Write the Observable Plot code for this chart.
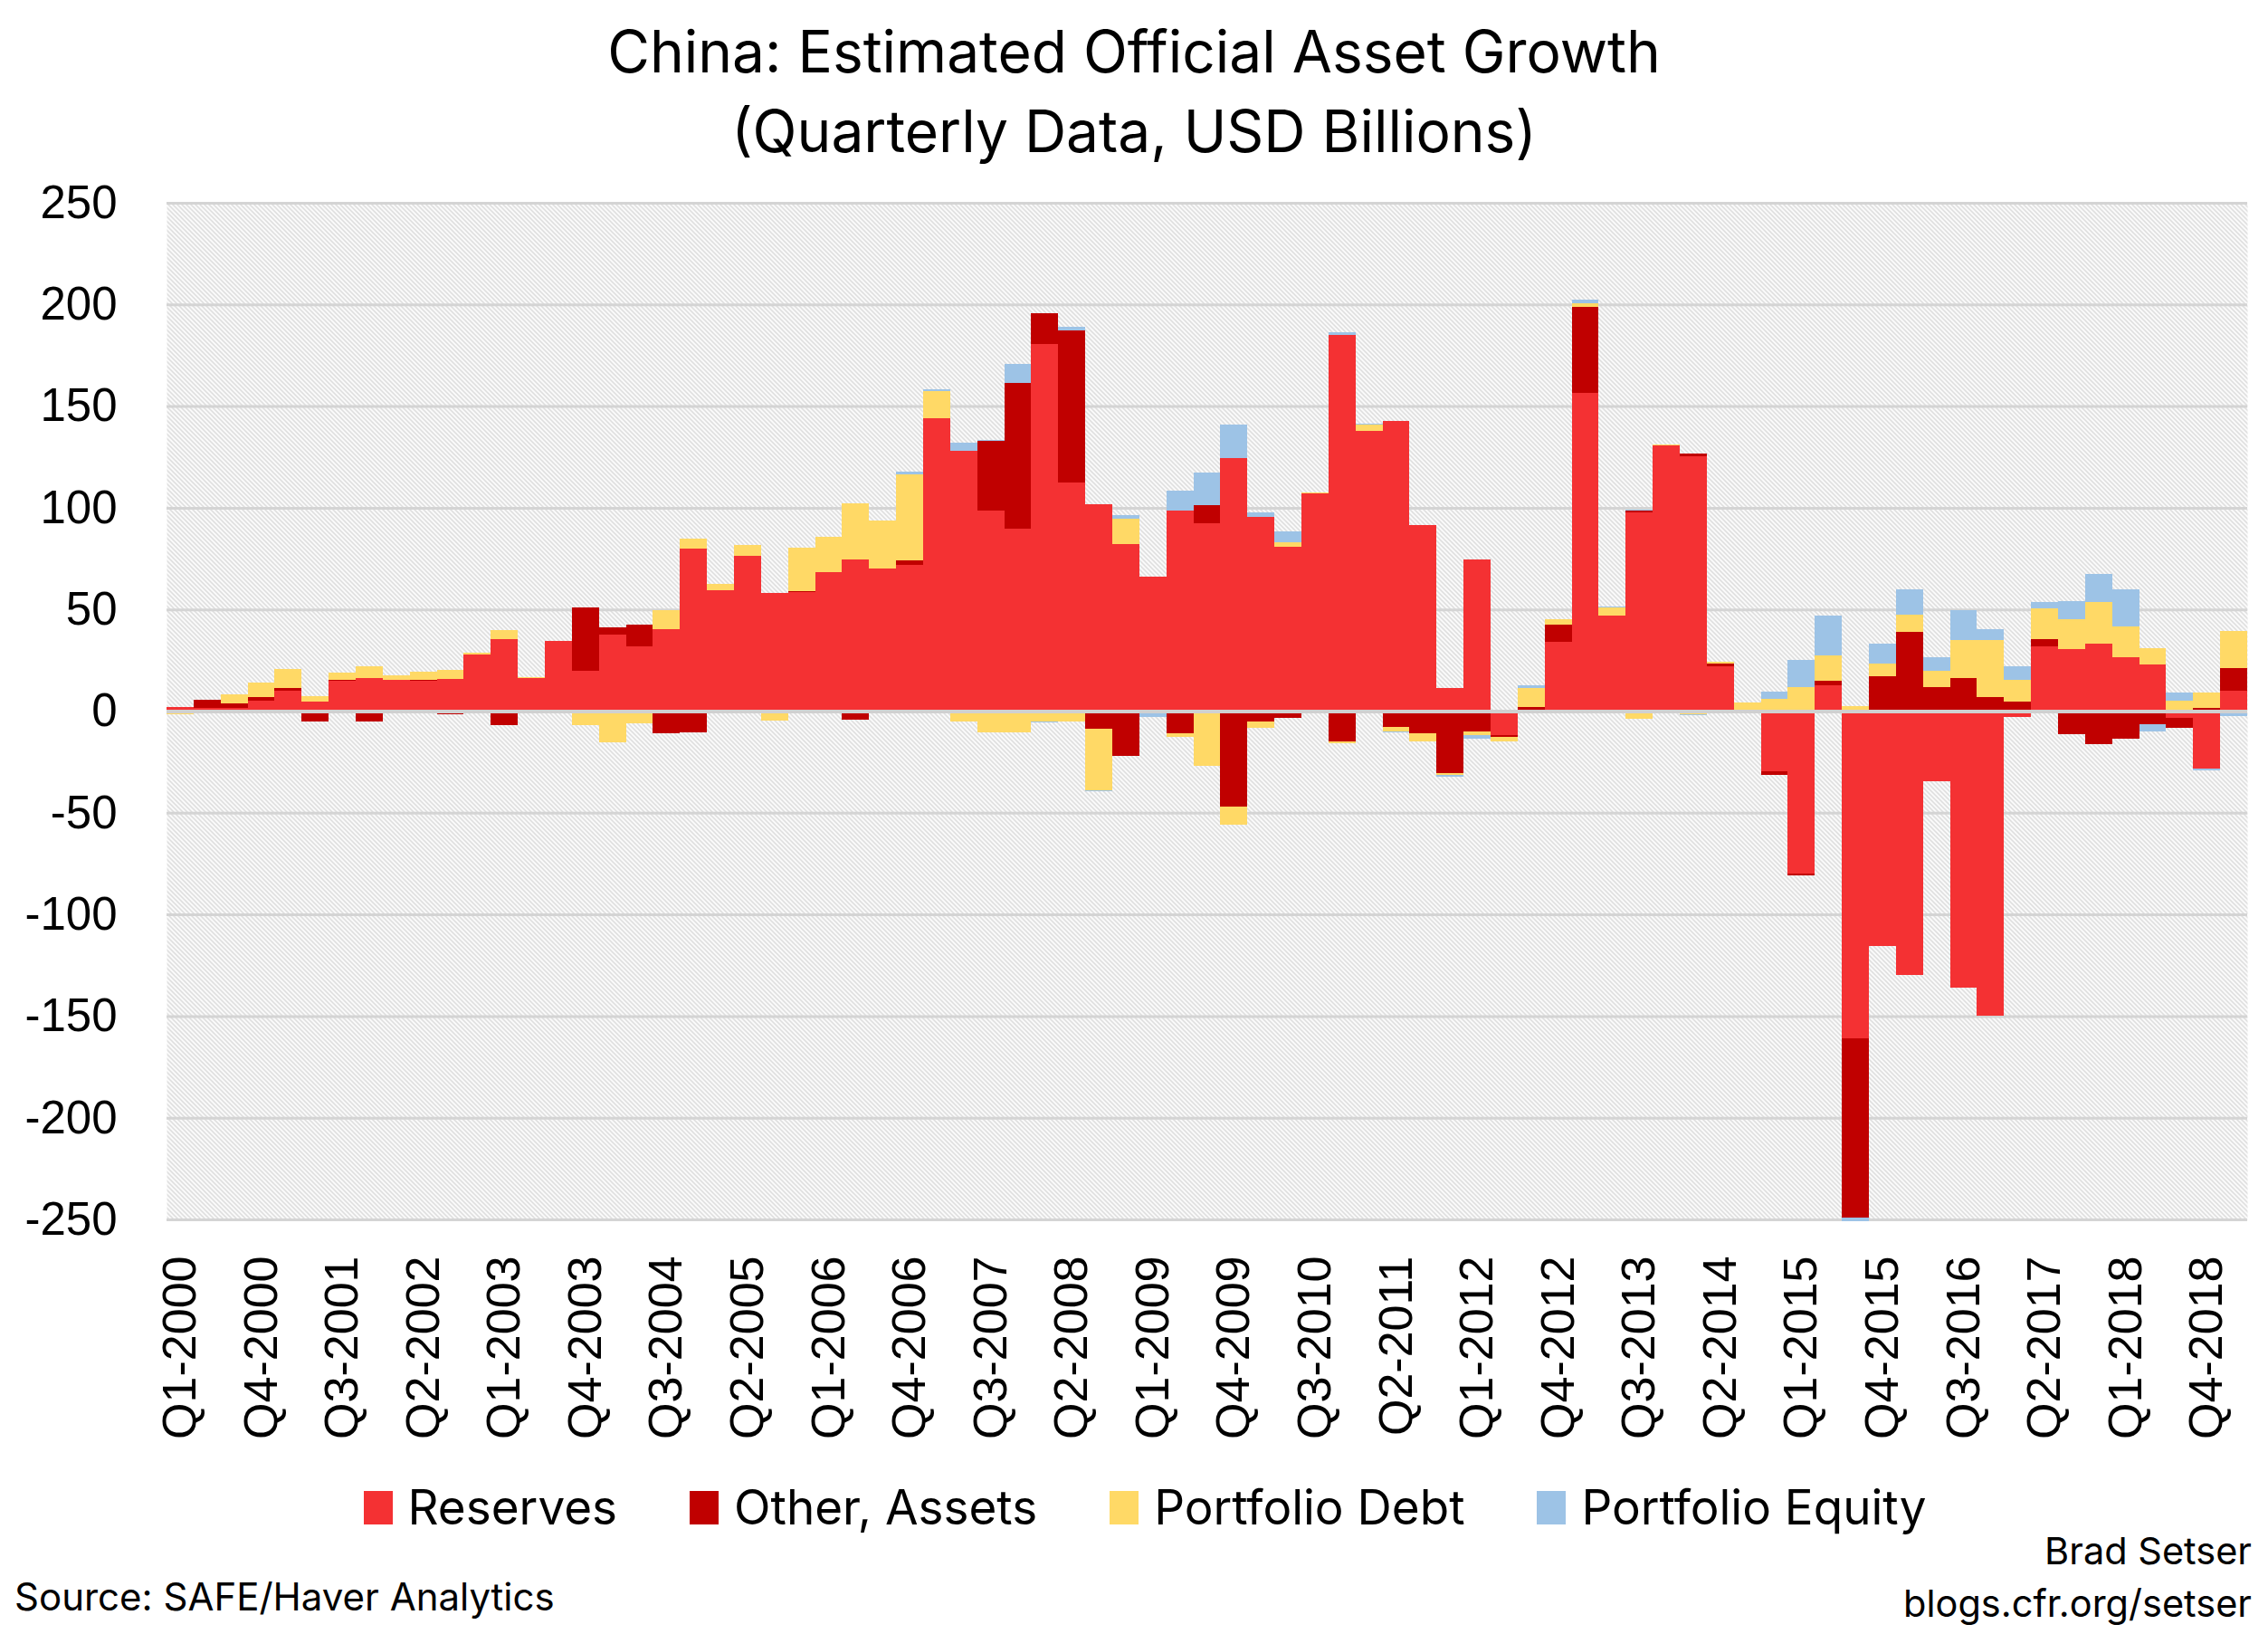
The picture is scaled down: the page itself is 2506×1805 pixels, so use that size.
<!DOCTYPE html>
<html>
<head>
<meta charset="utf-8">
<script src="https://cdn.jsdelivr.net/npm/d3@7"></script>
<script src="https://cdn.jsdelivr.net/npm/@observablehq/plot@0.6"></script>
<style>
  html, body { margin: 0; padding: 0; background: #fff; }
  body { width: 2506px; height: 1805px; position: relative; font-family: Inter, Lato, sans-serif; color: #000; overflow: hidden; }
  #title { position: absolute; top: 13px; left: 0; width: 2506px; text-align: center; font-size: 64px; line-height: 88px; }
  #chart { position: absolute; top: 180px; left: 0; }
  #legend { position: absolute; top: 1636px; left: 12px; width: 2506px; display: flex; justify-content: center; font-size: 53px; line-height: 58px; }
  #legend .item { display: flex; align-items: center; margin: 0 40px; }
  #legend .sw { width: 32px; height: 37px; margin-right: 17px; }
  #source { position: absolute; left: 16px; top: 1738px; font-size: 42px; }
  #credit { position: absolute; right: 18px; top: 1684px; font-size: 41.5px; text-align: right; line-height: 58px; }
</style>
</head>
<body>
<svg width="0" height="0" style="position:absolute">
  <defs>
    <pattern id="hatch" patternUnits="userSpaceOnUse" width="5" height="5">
      <rect width="5" height="5" fill="#ffffff"></rect>
      <path d="M0,0 L5,5 M-1,4 L1,6 M4,-1 L6,1" stroke="#d2d2d2" stroke-width="1.3"></path>
    </pattern>
  </defs>
</svg>
<div id="title">China: Estimated Official Asset Growth<br>(Quarterly Data, USD Billions)</div>
<div id="chart"></div>
<div id="legend"></div>
<div id="source">Source: SAFE/Haver Analytics</div>
<div id="credit">Brad Setser<br>blogs.cfr.org/setser</div>
<script>
// Quarters Q1-2000 .. Q1-2019
const years = d3.range(2000, 2020);
const quarters = years.flatMap(y => [1, 2, 3, 4].map(q => `Q${q}-${y}`)).slice(0, 77);
const tickLabels = quarters.filter((d, i) => i % 3 === 0);

const seriesNames = ["Reserves", "Other, Assets", "Portfolio Debt", "Portfolio Equity"];
const seriesColors = ["#f43133", "#c00000", "#ffd966", "#9dc3e6"];

const reserves = [
  1.9, 1.5, 1.5, 5.0, 9.9, 4.6, 15.1, 16.2, 15.3, 15.0,
  15.7, 27.9, 35.3, 16.2, 34.3, 19.6, 37.5, 31.8, 40.2, 79.8,
  59.5, 76.3, 58.0, 58.5, 68.4, 74.6, 70.1, 71.9, 144.0, 127.8,
  98.4, 89.9, 180.7, 112.2, 101.9, 82.3, 65.9, 98.4, 92.5, 124.6,
  95.6, 81.0, 106.9, 185.1, 137.9, 142.9, 91.7, 11.3, 74.7, -11.6,
  0, 34.1, 156.7, 46.9, 97.6, 130.7, 125.5, 22.2, 0, -29.8,
  -80.0, 12.5, -161.0, -115.4, -129.6, -34.7, -136.0, -149.9, -3.0, 31.8,
  30.5, 33.2, 26.6, 23.0, -3.3, -28.2, 10.1
];
const otherAssets = [
  -1.0, 4.2, 2.1, 1.8, 1.3, -4.9, 0.3, -5.0, -1.0, 0.4,
  -1.5, 0, -7.0, -0.5, 0.4, 31.3, 3.5, 10.7, -11.0, -10.5,
  -0.7, 0, 0, 0.5, 0, -4.3, 0, 2.2, -0.5, -1.0,
  34.3, 71.6, 15.1, 75.1, -8.5, -22.0, 0.4, -10.7, 9.0, -46.9,
  -5.0, -3.5, 0, -14.8, -0.7, -7.6, -10.7, -30.3, -9.8, -1.3,
  2.2, 8.5, 42.3, 0, 0.9, 0, 1.3, 1.1, 0.6, -1.7,
  -0.9, 2.2, -88.0, 17.0, 38.8, 11.6, 16.2, 7.1, 4.5, 3.5,
  -11.3, -16.2, -13.5, -6.4, -4.9, 1.6, 11.1
];
const portfolioDebt = [
  -0.5, 0, 4.6, 7.1, 9.3, 2.7, 3.4, 5.8, 2.2, 3.9,
  4.5, 0.7, 4.5, 0.4, -1.0, -6.8, -15.4, -5.9, 9.5, 4.9,
  3.0, 5.4, -4.8, 21.3, 17.3, 27.7, 23.5, 42.3, 13.4, -4.0,
  -10.5, -10.5, -5.2, -5.2, -30.3, 12.4, 0, -2.2, -26.8, -8.9,
  -3.1, 2.2, 0.5, -1.0, 3.0, -2.4, -4.1, -1.3, -2.0, -1.8,
  9.2, 2.6, 1.7, 4.2, -3.7, 0.5, -1.5, 0.9, 3.5, 5.8,
  11.6, 12.9, 2.4, 6.3, 8.8, 8.4, 18.6, 28.0, 11.0, 15.1,
  14.7, 20.5, 15.1, 8.0, 5.2, 7.6, 18.2
];
const portfolioEquity = [
  0, 0, 0, 0, 0, 0, 0, -0.3, 0, 0,
  0, 0, 0, 0, 0, 0, 0, 0, 0, 0,
  0, 0, 0, 0, 0, 0, 0, 1.3, 0.7, 4.4,
  0.7, 9.4, -0.3, 1.8, -0.5, 1.5, -3.0, 10.2, 15.9, 16.1,
  2.2, 5.4, -0.5, 1.1, 0.4, -0.5, 0, -0.5, -1.7, 0,
  1.5, -1.3, 1.5, 0.5, 0.4, -0.5, -0.7, -1.3, 0, 3.7,
  13.4, 19.2, -1.7, 9.7, 12.1, 6.7, 14.7, 5.0, 6.7, 3.2,
  8.9, 13.8, 18.2, -3.6, 4.0, -0.9, -2.4
];
const yTicks = [-250, -200, -150, -100, -50, 0, 50, 100, 150, 200, 250];

const seriesValues = [reserves, otherAssets, portfolioDebt, portfolioEquity];
const data = seriesNames.flatMap((name, s) =>
  quarters.map((q, i) => ({quarter: q, series: name, value: seriesValues[s][i]}))
);

const axisFont = "'Liberation Sans', Arial, sans-serif";
const plot = Plot.plot({
  width: 2506,
  height: 1460,
  marginTop: 44,
  marginBottom: 293,
  marginLeft: 184,
  marginRight: 23,
  style: {fontFamily: axisFont, background: "transparent"},
  x: {type: "band", domain: quarters, padding: 0},
  y: {domain: [-250, 250]},
  color: {domain: seriesNames, range: seriesColors},
  marks: [
    Plot.frame({fill: "url(#hatch)", stroke: "none"}),
    Plot.ruleY(yTicks, {stroke: "#d4d4d4", strokeWidth: 3}),
    Plot.barY(data, {x: "quarter", y: "value", fill: "series", z: "series", order: seriesNames, inset: 0, shapeRendering: "crispEdges"}),
    Plot.ruleY([0], {stroke: "#d0d0d0", strokeWidth: 4}),
    Plot.axisY({ticks: yTicks, tickSize: 0, tickPadding: 55, fontSize: 51, label: null, tickFormat: d => d}),
    Plot.axisX({ticks: tickLabels, tickSize: 0, tickPadding: 40, tickRotate: -90, fontSize: 52, label: null})
  ]
});
document.getElementById("chart").appendChild(plot);

const legend = d3.select("#legend");
seriesNames.forEach((name, i) => {
  const item = legend.append("div").attr("class", "item");
  item.append("div").attr("class", "sw").style("background", seriesColors[i]);
  item.append("span").text(name);
});
</script>
</body>
</html>
